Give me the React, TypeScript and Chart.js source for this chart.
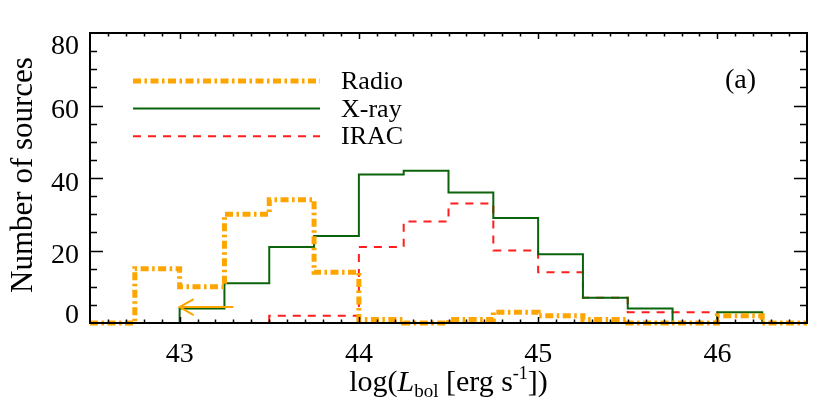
import React, { useEffect, useRef } from "react";
import { Chart, registerables } from "chart.js";

Chart.register(...registerables);

// Histogram bin edges (log L_bol) and counts per bin
const binEdges = [42.5, 42.75, 43.0, 43.25, 43.5, 43.75, 44.0, 44.25, 44.5, 44.75, 45.0, 45.25, 45.5, 45.75, 46.0, 46.25, 46.5];
const radioCounts = [0, 15, 10, 30, 34, 14, 1, 0, 1, 3, 2, 1, 0, 0, 2, 0];
const xrayCounts = [0, 0, 4, 11, 21, 24, 41, 42, 36, 29, 19, 7, 4, 0, 3, 0];
const iracCounts = [0, 0, 0, 0, 2, 2, 21, 28, 33, 20, 14, 7, 3, 3, 0, 0];
const seriesLabels = ["Radio", "X-ray", "IRAC"];
const xTickLabels = ["43", "44", "45", "46"];
const yTickLabels = ["0", "20", "40", "60", "80"];
// Upper-limit arrow for radio (from x, to x, at y)
const arrowFrom = [43.3, 4.4];
const arrowTo = [43.0, 4.4];
const panelLabel = "(a)";

const SERIF = "'Liberation Serif', 'DejaVu Serif', serif";

export default function App() {
  const ref = useRef<HTMLCanvasElement>(null);

  useEffect(() => {
    document.body.style.margin = "0";
    const canvas = ref.current;
    if (!canvas) return;

    const toPoints = (counts: number[]) =>
      binEdges.map((x, i) => ({ x, y: counts[Math.min(i, counts.length - 1)] }));

    const styles = [
      { color: "#FFA500", width: 5, dash: [8, 3.5, 2.5, 3.5] },
      { color: "#0B640B", width: 2, dash: [] as number[] },
      { color: "#FF1E1E", width: 2, dash: [8, 7] },
    ];
    const countsList = [radioCounts, xrayCounts, iracCounts];

    const decor = {
      id: "decor",
      afterDraw(chart: any) {
        const { ctx, chartArea: a, scales } = chart;
        const xs = scales.x;
        const ys = scales.y;
        ctx.save();

        // arrow (upper limit)
        const ax0 = xs.getPixelForValue(arrowFrom[0]);
        const ay0 = ys.getPixelForValue(arrowFrom[1]);
        const ax1 = xs.getPixelForValue(arrowTo[0]);
        const ay1 = ys.getPixelForValue(arrowTo[1]);
        ctx.strokeStyle = styles[0].color;
        ctx.lineWidth = 2;
        ctx.setLineDash([]);
        ctx.beginPath();
        ctx.moveTo(ax0, ay0);
        ctx.lineTo(ax1, ay1);
        ctx.moveTo(ax1 + 14, ay1 - 8);
        ctx.lineTo(ax1, ay1);
        ctx.lineTo(ax1 + 14, ay1 + 8);
        ctx.stroke();

        // frame
        ctx.strokeStyle = "#000";
        ctx.lineWidth = 2;
        ctx.strokeRect(a.left, a.top, a.right - a.left, a.bottom - a.top);

        // x ticks (minor every 0.1, major at integers)
        ctx.lineWidth = 1.5;
        ctx.beginPath();
        for (let k = 1; k < 40; k++) {
          const v = 42.5 + k * 0.1;
          const major = Math.abs(v - Math.round(v)) < 1e-6;
          const len = major ? 6 : 3.5;
          const px = Math.round(xs.getPixelForValue(v)) + 0.5;
          ctx.moveTo(px, a.bottom);
          ctx.lineTo(px, a.bottom - len);
          ctx.moveTo(px, a.top);
          ctx.lineTo(px, a.top + len);
        }
        // y ticks (minor every 5, major every 20)
        for (let v = 5; v < 80; v += 5) {
          const major = v % 20 === 0;
          const len = major ? 13 : 7;
          const py = Math.round(ys.getPixelForValue(v)) + 0.5;
          ctx.moveTo(a.left, py);
          ctx.lineTo(a.left + len, py);
          ctx.moveTo(a.right, py);
          ctx.lineTo(a.right - len, py);
        }
        ctx.stroke();

        // tick labels
        ctx.fillStyle = "#000";
        ctx.font = `28px ${SERIF}`;
        ctx.textAlign = "center";
        ctx.textBaseline = "alphabetic";
        xTickLabels.forEach((l) => {
          ctx.fillText(l, xs.getPixelForValue(Number(l)), a.bottom + 39);
        });
        ctx.textAlign = "right";
        yTickLabels.forEach((l) => {
          const py = ys.getPixelForValue(Number(l));
          const c = Math.min(Math.max(py + 3, a.top + 11), a.bottom - 10);
          ctx.fillText(l, a.left - 11, c + 9.5);
        });

        // y title
        ctx.save();
        ctx.translate(32, (a.top + a.bottom) / 2 - 3);
        ctx.rotate(-Math.PI / 2);
        ctx.textAlign = "center";
        ctx.font = `31px ${SERIF}`;
        ctx.fillText("Number of sources", 0, 0);
        ctx.restore();

        // x title with sub/superscript
        const parts = [
          { t: "log(", f: `30px ${SERIF}`, dy: 0 },
          { t: "L", f: `italic 30px ${SERIF}`, dy: 0 },
          { t: "bol", f: `19px ${SERIF}`, dy: 6 },
          { t: " [erg s", f: `30px ${SERIF}`, dy: 0 },
          { t: "-1", f: `18px ${SERIF}`, dy: -12 },
          { t: "])", f: `30px ${SERIF}`, dy: 0 },
        ];
        let total = 0;
        const widths = parts.map((p) => {
          ctx.font = p.f;
          const w = ctx.measureText(p.t).width;
          total += w;
          return w;
        });
        let cx = (a.left + a.right) / 2 - total / 2;
        ctx.textAlign = "left";
        parts.forEach((p, i) => {
          ctx.font = p.f;
          ctx.fillText(p.t, cx, 391 + p.dy);
          cx += widths[i];
        });

        // legend
        chart.data.datasets.forEach((ds: any, i: number) => {
          const y = a.top + 48 + i * 27.6;
          ctx.strokeStyle = ds.borderColor;
          ctx.lineWidth = ds.borderWidth;
          ctx.setLineDash(ds.borderDash || []);
          ctx.beginPath();
          ctx.moveTo(133, y);
          ctx.lineTo(320, y);
          ctx.stroke();
          ctx.setLineDash([]);
          ctx.font = `26px ${SERIF}`;
          ctx.textAlign = "left";
          ctx.fillStyle = "#000";
          ctx.fillText(ds.label, 341, y + 8);
        });

        // panel label
        ctx.font = `28px ${SERIF}`;
        ctx.textAlign = "left";
        ctx.fillText(panelLabel, 725, 88);

        ctx.restore();
      },
    };

    const chart = new Chart(canvas, {
      type: "line",
      data: {
        datasets: countsList.map((c, i) => ({
          label: seriesLabels[i],
          data: toPoints(c),
          stepped: "before" as const,
          borderColor: styles[i].color,
          borderWidth: styles[i].width,
          borderDash: styles[i].dash,
          pointRadius: 0,
          fill: false,
          order: i,
          clip: false as const,
        })),
      },
      options: {
        responsive: false,
        animation: false,
        devicePixelRatio: 1,
        layout: { padding: { left: 90, top: 33, right: 23, bottom: 83 } },
        plugins: { legend: { display: false }, tooltip: { enabled: false } },
        scales: {
          x: { type: "linear", min: 42.5, max: 46.5, display: false },
          y: { type: "linear", min: 0, max: 80, display: false },
        },
      },
      plugins: [decor],
    });

    return () => chart.destroy();
  }, []);

  return <canvas ref={ref} width={830} height={406} style={{ display: "block" }} />;
}
